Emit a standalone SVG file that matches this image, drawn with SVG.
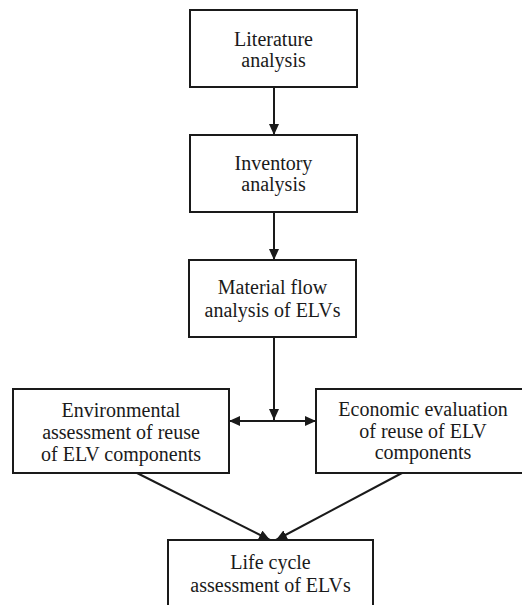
<svg xmlns="http://www.w3.org/2000/svg" width="522" height="605" viewBox="0 0 522 605">
  <style>
    .box { fill: #ffffff; stroke: #1a1a1a; stroke-width: 2; }
    .lbl { font-family: 'Liberation Serif', 'Times New Roman', Times, 'DejaVu Serif', serif; font-size: 20px; fill: #1a1a1a; text-anchor: middle; }
    .edge { fill: none; stroke: #1a1a1a; stroke-width: 2; }
  </style>
  <defs>
    <marker id="arrow" markerUnits="userSpaceOnUse" markerWidth="12" markerHeight="10" refX="11" refY="5" orient="auto">
      <path d="M0,0 L11,5 L0,10 z" fill="#1a1a1a"/>
    </marker>
  </defs>
  <rect width="522" height="605" fill="#ffffff"/>

  <g id="connectors">
    <line class="edge" x1="274" y1="87" x2="274" y2="135" marker-end="url(#arrow)"/>
    <line class="edge" x1="274" y1="212" x2="274" y2="260" marker-end="url(#arrow)"/>
    <line class="edge" x1="274" y1="337" x2="274" y2="420" marker-end="url(#arrow)"/>
    <line class="edge" x1="274" y1="421" x2="229" y2="421" marker-end="url(#arrow)"/>
    <line class="edge" x1="274" y1="421" x2="316" y2="421" marker-end="url(#arrow)"/>
    <line class="edge" x1="137" y1="473" x2="270" y2="540" marker-end="url(#arrow)"/>
    <line class="edge" x1="402" y1="473" x2="276" y2="540" marker-end="url(#arrow)"/>
  </g>

  <g id="literature" font-family="Liberation Serif, serif">
    <rect class="box" x="190" y="10" width="167" height="77"/>
    <text class="lbl" x="273.5" y="46">Literature</text>
    <text class="lbl" x="273.5" y="67">analysis</text>
  </g>

  <g id="inventory">
    <rect class="box" x="190" y="135" width="167" height="77"/>
    <text class="lbl" x="273.5" y="170">Inventory</text>
    <text class="lbl" x="273.5" y="191">analysis</text>
  </g>

  <g id="mfa">
    <rect class="box" x="189" y="260" width="167" height="77"/>
    <text class="lbl" x="272.5" y="294">Material flow</text>
    <text class="lbl" x="272.5" y="317">analysis of ELVs</text>
  </g>

  <g id="environmental">
    <rect class="box" x="13" y="389" width="216" height="84"/>
    <text class="lbl" x="121" y="417">Environmental</text>
    <text class="lbl" x="121" y="439">assessment of reuse</text>
    <text class="lbl" x="121" y="461">of ELV components</text>
  </g>

  <g id="economic">
    <rect class="box" x="316" y="389" width="214" height="84"/>
    <text class="lbl" x="423" y="416">Economic evaluation</text>
    <text class="lbl" x="423" y="438">of reuse of ELV</text>
    <text class="lbl" x="423" y="459">components</text>
  </g>

  <g id="lca">
    <rect class="box" x="168" y="540" width="205" height="80"/>
    <text class="lbl" x="270.5" y="569">Life cycle</text>
    <text class="lbl" x="270.5" y="592">assessment of ELVs</text>
  </g>
</svg>
